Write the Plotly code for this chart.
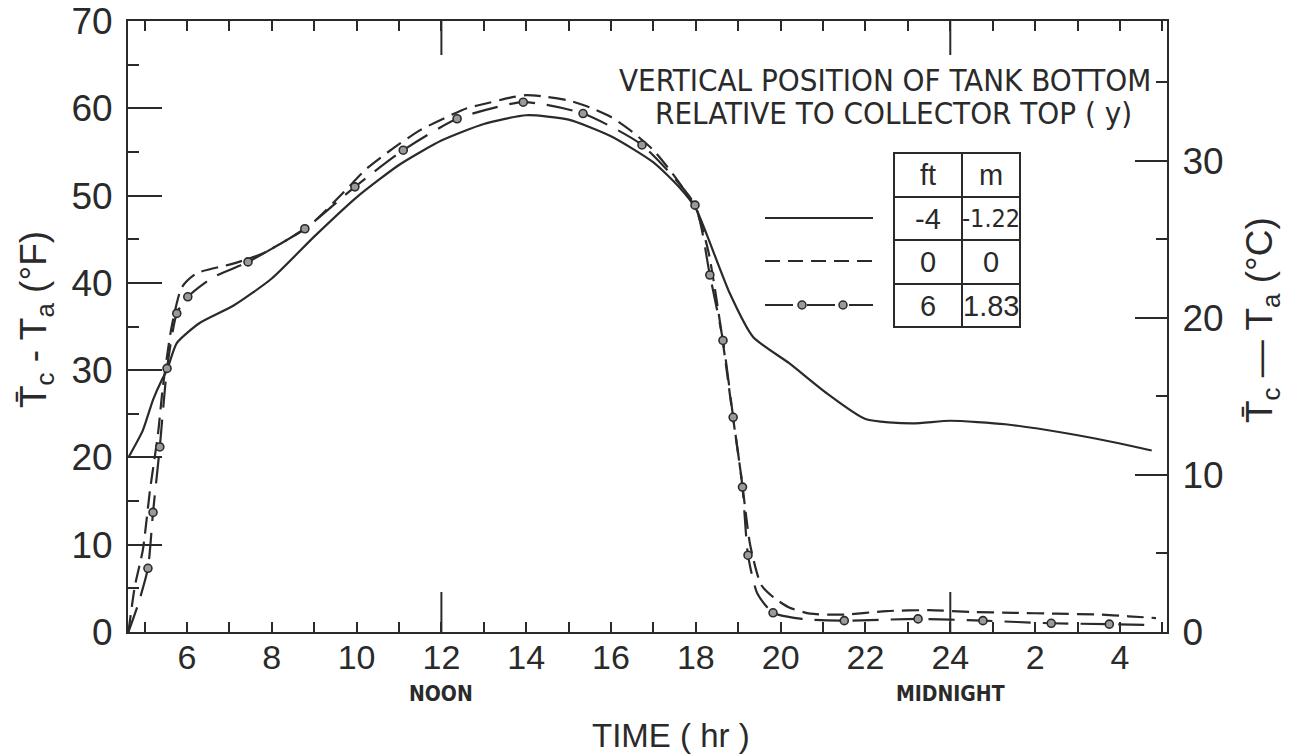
import plotly.graph_objects as go

# ---------------- data ----------------
# time in hours; values after midnight continue as 25, 26, ... (labelled 1, 2, ...)
solid_hours = [4.62, 4.96, 5.2, 5.41, 5.53, 5.76, 6.3, 7.1, 8.0, 9.0, 10.0, 11.0, 12.0,
               13.0, 14.0, 15.0, 16.0, 17.0, 17.6, 18.0, 18.26, 18.8, 19.35, 20.2,
               21.1, 22.0, 23.1, 24.0, 25.3, 26.7, 28.0, 28.75]
solid_vals = [20.0, 23.1, 26.6, 28.9, 30.0, 33.1, 35.4, 37.4, 40.5, 45.3, 49.8, 53.5, 56.3,
              58.2, 59.2, 58.7, 56.8, 53.8, 51.0, 48.5, 45.5, 38.8, 33.8, 30.8,
              27.3, 24.4, 23.9, 24.2, 23.8, 22.8, 21.6, 20.8]

zero_hours = [4.62, 4.77, 4.96, 5.13, 5.32, 5.43, 5.64, 5.88, 6.23, 7.09, 7.8, 8.9, 9.7,
              10.24, 10.86, 11.5, 12.13, 12.6, 13.1, 13.6, 14.0, 14.5, 15.0, 15.5, 16.0,
              16.5, 17.0, 17.5, 18.0, 18.3, 18.6, 18.85, 19.08, 19.28, 19.54, 19.85,
              20.2, 20.7, 21.5, 22.5, 23.5, 24.5, 25.5, 26.5, 27.5, 28.2, 28.85]
zero_vals = [0.0, 5.2, 9.4, 16.3, 22.8, 28.0, 35.0, 39.5, 41.1, 42.2, 43.4, 46.6, 50.4,
             53.1, 55.4, 57.5, 59.0, 60.0, 60.6, 61.2, 61.5, 61.3, 60.9, 60.1, 59.0,
             57.3, 55.2, 52.2, 48.5, 43.5, 34.5, 25.5, 17.5, 10.0, 5.4, 3.9,
             2.8, 2.1, 2.0, 2.4, 2.5, 2.3, 2.2, 2.1, 2.0, 1.8, 1.6]

six_hours = [4.62, 4.85, 5.08, 5.2, 5.36, 5.53, 5.76, 6.02, 6.6, 7.44, 8.78, 9.96, 11.1,
             12.37, 13.93, 15.34, 16.73, 17.98, 18.33, 18.64, 18.88, 19.1, 19.23, 19.45,
             19.82, 20.5, 21.5, 23.24, 24.77, 26.38, 27.75, 28.85]
six_vals = [0.0, 3.2, 7.3, 13.7, 21.2, 30.2, 36.5, 38.4, 40.6, 42.4, 46.2, 51.0, 55.2,
            58.8, 60.7, 59.4, 55.8, 48.9, 40.9, 33.4, 24.6, 16.6, 8.8, 4.4,
            2.2, 1.5, 1.3, 1.5, 1.3, 1.0, 0.9, 0.8]
six_marker_hours = [5.08, 5.2, 5.36, 5.53, 5.76, 6.02, 7.44, 8.78, 9.96, 11.1, 12.37, 13.93,
                    15.34, 16.73, 17.98, 18.33, 18.64, 18.88, 19.1, 19.23, 19.82, 21.5,
                    23.24, 24.77, 26.38, 27.75]
six_marker_vals = [7.3, 13.7, 21.2, 30.2, 36.5, 38.4, 42.4, 46.2, 51.0, 55.2, 58.8, 60.7,
                   59.4, 55.8, 48.9, 40.9, 33.4, 24.6, 16.6, 8.8, 2.2, 1.3,
                   1.5, 1.3, 1.0, 0.9]

x_tick_hours = [6, 8, 10, 12, 14, 16, 18, 20, 22, 24, 26, 28]
x_tick_labels = ["6", "8", "10", "12", "14", "16", "18", "20", "22", "24", "2", "4"]
y_f_ticks = [0, 10, 20, 30, 40, 50, 60, 70]
y_c_ticks = [0, 10, 20, 30]
long_tick_hours = [12, 24]
day_marks = [(12, "NOON"), (24, "MIDNIGHT")]
table_cells = [["ft", "m"], ["-4", "-1.22"], ["0", "0"], ["6", "1.83"]]

# ---------------- layout helpers ----------------
W, H = 1297, 754
L, R, T, B = 128, 130, 21, 122
PW, PH = W - L - R, H - T - B
INK = "#2a2a2a"
FONT = "Liberation Sans, Arial, sans-serif"
NARROW = "Liberation Sans Narrow, DejaVu Sans Condensed, Liberation Sans, sans-serif"


def px(x):
    return (x - L) / PW


def py(y):
    return (H - B - y) / PH


fig = go.Figure()
fig.add_trace(go.Scatter(x=solid_hours, y=solid_vals, mode="lines",
                         line=dict(color=INK, width=2.2, shape="spline", smoothing=0.6),
                         showlegend=False, hoverinfo="skip"))
fig.add_trace(go.Scatter(x=zero_hours, y=zero_vals, mode="lines",
                         line=dict(color=INK, width=2.2, dash="17px,8px", shape="spline",
                                   smoothing=0.6),
                         showlegend=False, hoverinfo="skip"))
fig.add_trace(go.Scatter(x=six_hours, y=six_vals, mode="lines",
                         line=dict(color=INK, width=2.2, dash="26px,12px", shape="spline",
                                   smoothing=0.6),
                         showlegend=False, hoverinfo="skip"))
fig.add_trace(go.Scatter(x=six_marker_hours, y=six_marker_vals, mode="markers",
                         marker=dict(size=8, color="#9a9a9a", line=dict(color=INK, width=1.6)),
                         showlegend=False, hoverinfo="skip"))
# empty trace so the °C axis is bound
fig.add_trace(go.Scatter(x=[], y=[], yaxis="y2", showlegend=False))

shapes = []
# long ticks at noon and midnight (bottom and top)
for h in long_tick_hours:
    shapes.append(dict(type="line", xref="x", yref="paper", ysizemode="pixel", yanchor=0,
                       x0=h, x1=h, y0=0, y1=40, line=dict(color=INK, width=2)))
    shapes.append(dict(type="line", xref="x", yref="paper", ysizemode="pixel", yanchor=1,
                       x0=h, x1=h, y0=0, y1=-34, line=dict(color=INK, width=2)))

# legend table
tx0, tx1, tmid = 894, 1020, 962
row_edges = [153, 197, 240, 284, 327]
shapes.append(dict(type="rect", xref="paper", yref="paper", x0=px(tx0), x1=px(tx1),
                   y0=py(row_edges[0]), y1=py(row_edges[-1]), line=dict(color=INK, width=2)))
for ye in row_edges[1:-1]:
    shapes.append(dict(type="line", xref="paper", yref="paper", x0=px(tx0), x1=px(tx1),
                       y0=py(ye), y1=py(ye), line=dict(color=INK, width=2)))
shapes.append(dict(type="line", xref="paper", yref="paper", x0=px(tmid), x1=px(tmid),
                   y0=py(row_edges[0]), y1=py(row_edges[-1]), line=dict(color=INK, width=2)))

# legend line samples
lx0, lx1 = 765, 873
sample_rows = [(218, "solid"), (261, "15px,8px"), (305, "28px,14px")]
for yy, dsh in sample_rows:
    shapes.append(dict(type="line", xref="paper", yref="paper", x0=px(lx0), x1=px(lx1),
                       y0=py(yy), y1=py(yy), line=dict(color=INK, width=2, dash=dsh)))
for cx in (802, 843):
    shapes.append(dict(type="circle", xref="paper", yref="paper", x0=px(cx - 4), x1=px(cx + 4),
                       y0=py(305 - 4), y1=py(305 + 4), fillcolor="#9a9a9a",
                       line=dict(color=INK, width=1.5)))

annotations = []
col_centers = [(tx0 + tmid) / 2, (tmid + tx1) / 2]
for i, row in enumerate(table_cells):
    yc = (row_edges[i] + row_edges[i + 1]) / 2
    for j, txt in enumerate(row):
        narrow_cell = txt == "-1.22"
        annotations.append(dict(xref="paper", yref="paper", x=px(col_centers[j]), y=py(yc),
                                text=txt, showarrow=False, xanchor="center", yanchor="middle",
                                font=dict(family=NARROW if narrow_cell else FONT,
                                          size=25 if narrow_cell else 29, color=INK)))

annotations.append(dict(xref="paper", yref="paper", x=px(885), y=py(80),
                        text="VERTICAL POSITION OF TANK BOTTOM", showarrow=False,
                        xanchor="center", yanchor="middle",
                        font=dict(family=NARROW, size=31, color=INK)))
annotations.append(dict(xref="paper", yref="paper", x=px(893), y=py(113),
                        text="RELATIVE TO COLLECTOR TOP ( y)", showarrow=False,
                        xanchor="center", yanchor="middle",
                        font=dict(family=NARROW, size=31, color=INK)))

for h, lab in day_marks:
    annotations.append(dict(xref="x", yref="paper", x=h, y=0, yshift=-62, text="<b>" + lab + "</b>",
                            showarrow=False, xanchor="center", yanchor="middle",
                            font=dict(family=NARROW, size=21, color=INK)))

annotations.append(dict(xref="paper", yref="paper", x=px(671), y=py(735),
                        text="TIME ( hr )", showarrow=False, xanchor="center", yanchor="middle",
                        font=dict(family=FONT, size=33, color=INK)))
annotations.append(dict(xref="paper", yref="paper", x=px(36), y=py(320), textangle=-90,
                        text="T\u0304<sub>c</sub> - T<sub>a</sub> (°F)", showarrow=False,
                        xanchor="center", yanchor="middle",
                        font=dict(family=FONT, size=37, color=INK)))
annotations.append(dict(xref="paper", yref="paper", x=px(1262), y=py(320), textangle=-90,
                        text="T\u0304<sub>c</sub> \u2014 T<sub>a</sub> (°C)", showarrow=False,
                        xanchor="center", yanchor="middle",
                        font=dict(family=FONT, size=37, color=INK)))

fig.update_layout(
    width=W, height=H,
    margin=dict(l=L, r=R, t=T, b=B, pad=0, autoexpand=False),
    paper_bgcolor="white", plot_bgcolor="white",
    showlegend=False,
    xaxis=dict(range=[4.61, 29.11], tickmode="array", tickvals=x_tick_hours,
               ticktext=x_tick_labels, ticks="inside", ticklen=10, tickwidth=2,
               tickcolor=INK, showline=True, linewidth=2, linecolor=INK, mirror="ticks",
               showgrid=False, zeroline=False, ticklabelstandoff=-6, automargin=False,
               tickfont=dict(family=FONT, size=34, color=INK),
               minor=dict(dtick=1, tick0=0, ticks="inside", ticklen=10, tickwidth=2,
                          tickcolor=INK, showgrid=False)),
    yaxis=dict(range=[0, 70], tickmode="array", tickvals=y_f_ticks, ticks="inside",
               ticklen=34, tickwidth=2, tickcolor=INK, showline=True, linewidth=2,
               linecolor=INK, showgrid=False, zeroline=False, ticklabelstandoff=6,
               automargin=False, tickfont=dict(family=FONT, size=37, color=INK),
               minor=dict(dtick=5, tick0=0, ticks="inside", ticklen=11, tickwidth=2,
                          tickcolor=INK, showgrid=False)),
    yaxis2=dict(range=[0, 70 / 1.8], overlaying="y", side="right", tickmode="array",
                tickvals=y_c_ticks, ticks="inside", ticklen=32, tickwidth=2, tickcolor=INK,
                showline=True, linewidth=2, linecolor=INK, showgrid=False, zeroline=False,
                ticklabelstandoff=6, automargin=False,
                tickfont=dict(family=FONT, size=37, color=INK),
                minor=dict(dtick=5, tick0=0, ticks="inside", ticklen=11, tickwidth=2,
                           tickcolor=INK, showgrid=False)),
    shapes=shapes,
    annotations=annotations,
)

fig.write_html("out.html")
